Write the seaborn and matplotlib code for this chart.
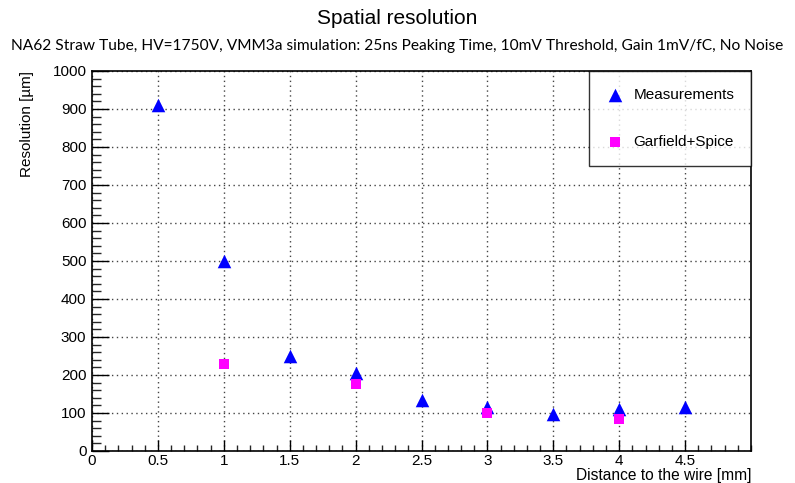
import numpy as np
import pandas as pd
import matplotlib
matplotlib.use("Agg")
import matplotlib.pyplot as plt
import seaborn as sns
from matplotlib.ticker import MultipleLocator

# ---- data ----
meas_x = [0.5, 1.0, 1.5, 2.0, 2.5, 3.0, 3.5, 4.0, 4.5]
meas_y = [910, 501, 249, 204, 134, 116, 97, 110, 117]
sim_x = [1.0, 2.0, 3.0, 4.0]
sim_y = [229, 176, 99, 85]
series_names = ["Measurements", "Garfield+Spice"]
x_ticks = [0, 0.5, 1, 1.5, 2, 2.5, 3, 3.5, 4, 4.5]
x_tick_labels = ["0", "0.5", "1", "1.5", "2", "2.5", "3", "3.5", "4", "4.5"]
y_ticks = [0, 100, 200, 300, 400, 500, 600, 700, 800, 900, 1000]

df = pd.DataFrame({
    "x": meas_x + sim_x,
    "y": meas_y + sim_y,
    "series": [series_names[0]] * len(meas_x) + [series_names[1]] * len(sim_x),
})

sns.set_theme(style="white")
plt.rcParams["font.family"] = ["Liberation Sans", "DejaVu Sans"]

W, H = 795, 483
fig = plt.figure(figsize=(W / 100, H / 100), dpi=100)
ax = fig.add_axes([92 / W, 1 - 451 / H, (751 - 92) / W, (451 - 71) / H])

for name, m, c, s in [
    (series_names[0], "^", "#0000ff", 95),
    (series_names[1], "s", "#ff00ff", 55),
]:
    sub = df[df["series"] == name]
    sns.scatterplot(data=sub, x="x", y="y", marker=m, color=c, s=s,
                    linewidth=0, ax=ax, label=name, zorder=3)

ax.set_xlim(0, 5)
ax.set_ylim(0, 1000)
ax.set_xticks(x_ticks)
ax.set_xticklabels(x_tick_labels)
ax.set_yticks(y_ticks)
ax.xaxis.set_minor_locator(MultipleLocator(0.1))
ax.yaxis.set_minor_locator(MultipleLocator(20))

ax.tick_params(axis="x", which="major", direction="in", length=8, width=1,
               labelsize=11, pad=2.5, colors="black", bottom=True, top=False)
ax.tick_params(axis="x", which="minor", direction="in", length=4.3, width=1,
               bottom=True, top=False)
ax.tick_params(axis="y", which="major", direction="in", length=12.5, width=1,
               labelsize=11, pad=4, colors="black", left=True, right=False)
ax.tick_params(axis="y", which="minor", direction="in", length=6.5, width=1,
               left=True, right=False)

for sp in ax.spines.values():
    sp.set_visible(True)
    sp.set_color("black")
    sp.set_linewidth(1.2)

ax.grid(True, which="major", linestyle=(0, (1, 2.5)), color="#444444",
        linewidth=1.0)
ax.set_axisbelow(True)

ax.set_xlabel("Distance to the wire [mm]", fontsize=11.2, color="black")
ax.xaxis.set_label_coords(1.0, (451 - 480) / 380)
ax.xaxis.label.set_horizontalalignment("right")
ax.xaxis.label.set_verticalalignment("baseline")
ax.set_ylabel("Resolution [\u00b5m]", fontsize=11, color="black")
ax.yaxis.set_label_coords(-0.088, 1.0)
ax.yaxis.label.set_horizontalalignment("right")

leg = ax.legend(loc="upper right", bbox_to_anchor=(1.0, 1.0), borderaxespad=0,
                frameon=True, fancybox=False, edgecolor="black", fontsize=11,
                labelspacing=2.2, borderpad=1.1, handletextpad=0.6,
                handlelength=1.2, markerscale=1.0)
leg.get_frame().set_linewidth(1.0)
for t in leg.get_texts():
    t.set_color("black")

fig.text(0.5, 1 - 19 / H, "Spatial resolution", ha="center", va="center",
         fontsize=15, color="black")
fig.text(0.5, 1 - 46 / H,
         "NA62 Straw Tube, HV=1750V, VMM3a simulation: 25ns Peaking Time, 10mV Threshold, Gain 1mV/fC, No Noise",
         ha="center", va="center", fontsize=11.15, color="black",
         family=["Lato", "DejaVu Sans"])

fig.savefig("out.png", dpi=100)
